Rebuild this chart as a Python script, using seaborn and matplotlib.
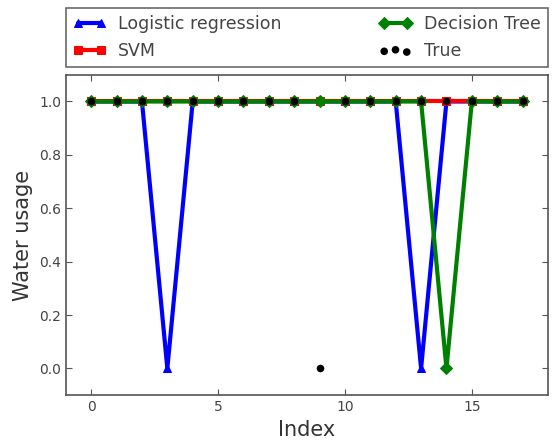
import numpy as np
import pandas as pd
import matplotlib
matplotlib.use('Agg')
import matplotlib.pyplot as plt
import seaborn as sns

## ============================== ##

index = list(range(18))
logistic = [1, 1, 1, 0, 1, 1, 1, 1, 1, 1, 1, 1, 1, 0, 1, 1, 1, 1]
svm = [1, 1, 1, 1, 1, 1, 1, 1, 1, 1, 1, 1, 1, 1, 1, 1, 1, 1]
tree = [1, 1, 1, 1, 1, 1, 1, 1, 1, 1, 1, 1, 1, 1, 0, 1, 1, 1]
truth = [1, 1, 1, 1, 1, 1, 1, 1, 1, 0, 1, 1, 1, 1, 1, 1, 1, 1]

df = pd.DataFrame({'index': index, 'logistic': logistic, 'svm': svm,
		'tree': tree, 'true': truth})

## ============================== ##

sns.set_style('ticks', {'xtick.direction': 'in', 'ytick.direction': 'in',
		'axes.edgecolor': '#555555', 'xtick.color': '#555555', 'ytick.color': '#555555'})
plt.rcParams['font.family'] = ['DejaVu Sans']

fig = plt.figure(figsize=(5.58, 4.40), dpi=100)
ax = fig.add_axes([0.118, 0.102, 0.864, 0.728])

sns.lineplot(ax=ax, data=df, x='index', y='logistic', color='b', lw=3,
		marker='^', ms=6, mec='b', label='Logistic regression')
sns.lineplot(ax=ax, data=df, x='index', y='svm', color='r', lw=3,
		marker='s', ms=6, mec='r', label='SVM')
sns.lineplot(ax=ax, data=df, x='index', y='tree', color='g', lw=3,
		marker='D', ms=6, mec='g', label='Decision Tree')
sns.scatterplot(ax=ax, data=df, x='index', y='true', color='k', s=30,
		edgecolor='k', linewidth=0, label='True', zorder=3)

ax.set_xlim(-1, 18)
ax.set_ylim(-0.1, 1.1)
ax.set_xticks([0, 5, 10, 15])
ax.set_yticks([0.0, 0.2, 0.4, 0.6, 0.8, 1.0])
ax.set_xlabel('Index', fontsize=15, color='#333333')
ax.set_ylabel('Water usage', fontsize=15, color='#333333')
ax.tick_params(top=True, right=True, labelsize=10, labelcolor='#444444', length=4, width=0.8)
for sp in ax.spines.values():
	sp.set_linewidth(1.2)

leg = ax.legend(bbox_to_anchor=(0., 1.025, 1., 0.19), loc='lower left', ncol=2,
		mode='expand', borderaxespad=0., numpoints=2, scatterpoints=3,
		scatteryoffsets=[0.375, 0.5, 0.3125], fontsize=12.5, fancybox=False,
		frameon=True, handlelength=1.9, handletextpad=0.7)
leg.get_frame().set_edgecolor('#444444')
leg.get_frame().set_linewidth(1.2)
for t in leg.get_texts():
	t.set_color('#444444')

fig.savefig('out.png', dpi=100)
